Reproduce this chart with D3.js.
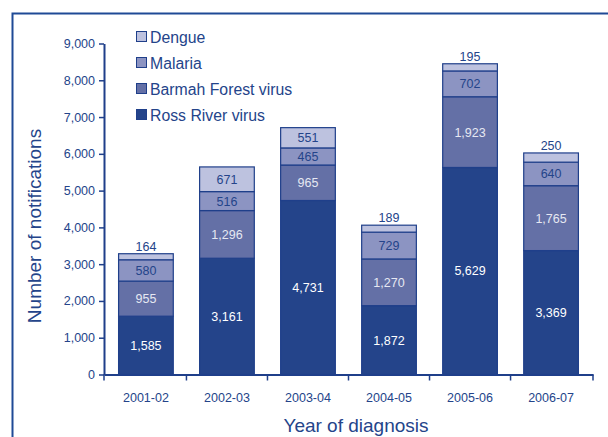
<!DOCTYPE html>
<html><head><meta charset="utf-8">
<script src="https://cdn.jsdelivr.net/npm/d3@7"></script>
<style>
body{margin:0;background:#fff;}
svg{display:block;font-family:"Liberation Sans",Arial,sans-serif;}
</style></head>
<body><svg id="c" width="608" height="437"></svg>
<script>
const years = ["2001-02","2002-03","2003-04","2004-05","2005-06","2006-07"];
const rossRiver = [1585,3161,4731,1872,5629,3369];
const barmahForest = [955,1296,965,1270,1923,1765];
const malaria = [580,516,465,729,702,640];
const dengue = [164,671,551,189,195,250];
const seriesNames = ["Ross River virus","Barmah Forest virus","Malaria","Dengue"];
const yTicks = [0,1000,2000,3000,4000,5000,6000,7000,8000,9000];

const colors = ["#24448a","#6470a6","#8c94c2","#bdc2df"];
const labelColors = ["#ffffff","#e6e8f2","#24448a","#24448a"];
const strokeC = "#1f3f8a";
const textC = "#24448a";

const svg = d3.select("#c");
// frame
svg.append("path").attr("d","M12.5,440 L12.5,13.5 L612,13.5")
  .attr("fill","none").attr("stroke","#1f4a96").attr("stroke-width",2);

const x = d3.scaleBand().domain(years).range([104,593]).paddingInner(0.325).paddingOuter(0.18);
const y = d3.scaleLinear().domain([0,9000]).range([374.5,43.5]);

const table = years.map((yr,i)=>({year:yr, "Ross River virus":rossRiver[i], "Barmah Forest virus":barmahForest[i], "Malaria":malaria[i], "Dengue":dengue[i]}));
const stacked = d3.stack().keys(seriesNames)(table);

stacked.forEach((s,si)=>{
  const g = svg.append("g");
  g.selectAll("rect").data(s).join("rect")
    .attr("x",d=>x(d.data.year)).attr("width",x.bandwidth())
    .attr("y",d=>y(d[1])).attr("height",d=>y(d[0])-y(d[1]))
    .attr("fill",colors[si]).attr("stroke",strokeC).attr("stroke-width",1.2);
  g.selectAll("text").data(s).join("text")
    .attr("x",d=>x(d.data.year)+x.bandwidth()/2)
    .attr("y",d=>{
      const v=d[1]-d[0];
      if (si===3 && v<300) return y(d[1])-3;
      return (y(d[0])+y(d[1]))/2+4.5;
    })
    .attr("text-anchor","middle").attr("font-size",12.5)
    .attr("fill",d=>{const v=d[1]-d[0]; return (si===3 && v<300)? textC : labelColors[si];})
    .text(d=>d3.format(",")(d[1]-d[0]));
});

// axes
const yAxis = svg.append("g").attr("transform","translate(104,0)")
  .call(d3.axisLeft(y).tickValues(yTicks).tickFormat(d3.format(",")).tickSize(5).tickSizeOuter(0));
const xAxis = svg.append("g").attr("transform","translate(0,374.5)")
  .call(d3.axisBottom(x).tickSize(0).tickSizeOuter(0));
[yAxis,xAxis].forEach(a=>{
  a.select(".domain").attr("stroke",strokeC).attr("stroke-width",2);
  a.selectAll(".tick line").attr("stroke",strokeC).attr("stroke-width",1.5);
  a.selectAll("text").attr("fill",textC).attr("font-size",12.5).attr("font-family","Liberation Sans, Arial, sans-serif");
});
yAxis.selectAll(".tick text").attr("x",-9);
xAxis.selectAll(".tick text").attr("dy","1.95em");
// x-axis boundary ticks
const bounds = [104].concat(years.map(yr=>x(yr)+x.bandwidth()+x.step()*x.paddingInner()/2));
bounds[bounds.length-1]=593;
xAxis.selectAll(".bt").data(bounds).join("line").attr("class","bt")
  .attr("x1",d=>d).attr("x2",d=>d).attr("y1",0).attr("y2",6)
  .attr("stroke",strokeC).attr("stroke-width",1.5);

// titles
svg.append("text").attr("transform","translate(41,226) rotate(-90)")
  .attr("text-anchor","middle").attr("font-size",19).attr("fill",textC)
  .text("Number of notifications");
svg.append("text").attr("x",356).attr("y",432)
  .attr("text-anchor","middle").attr("font-size",19).attr("fill",textC)
  .text("Year of diagnosis");

// legend
const legendOrder = [3,2,1,0];
const lg = svg.append("g");
legendOrder.forEach((si,k)=>{
  const yy = 31 + k*26;
  lg.append("rect").attr("x",136.5).attr("y",yy+0.5).attr("width",10).attr("height",10)
    .attr("fill",colors[si]).attr("stroke",strokeC).attr("stroke-width",1);
  lg.append("text").attr("x",150).attr("y",yy+11.5).attr("font-size",15.8).attr("fill",textC)
    .text(seriesNames[si]);
});
</script></body></html>
